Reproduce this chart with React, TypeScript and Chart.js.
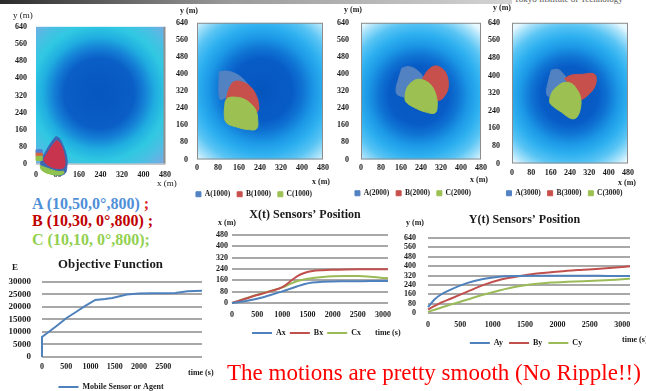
import React, { useEffect, useRef } from "react";
import { Chart, registerables } from "chart.js";

Chart.register(...registerables);

const SERIF = "'Liberation Serif', 'Times New Roman', serif";
const INK = "#1a1a1a";
const BLUE = "#4f81bd";
const RED = "#c0504d";
const GREEN = "#9bbb59";

/* ---------------- sensor field panels (t = 0, 1000, 2000, 3000 s) ---------------- */
const FIELD_X_TICKS = [0, 80, 160, 240, 320, 400, 480];
const FIELD_Y_TICKS = [0, 80, 160, 240, 320, 400, 480, 560, 640];
const FIELD_RADIUS = 360; // fade radius of the density field (m)

// t = 0 : sensors start near the origin
const P1_CENTER = [235, 330];
const P1_A = [[19, 23], [71, 126], [86, 122], [97, 98], [108, 65], [115, 28], [115, -9], [108, -42], [82, -51], [45, -37], [19, -9]];
const P1_B = [[30, 28], [74, 108], [86, 103], [97, 79], [104, 47], [108, 14], [104, -14], [82, -19], [52, -9], [30, 14]];
const P1_C = [[15, -5], [45, -19], [82, -33], [104, -33], [97, -47], [60, -47], [22, -28]];
const P1_A_MARK = [[0, 68], [22, 68], [22, 52], [0, 52]];
const P1_B_MARK = [[0, 52], [22, 52], [22, 38], [0, 38]];
const P1_C_MARK = [[0, 38], [22, 38], [22, 18], [0, 18]];

// t = 1000
const P2_CENTER = [245, 325];
const P2_A = [[85, 411], [119, 413], [158, 394], [189, 359], [199, 333], [164, 278], [113, 290], [90, 281], [84, 301], [84, 372]];
const P2_B = [[113, 293], [123, 333], [141, 364], [177, 361], [206, 337], [225, 301], [234, 262], [231, 226], [196, 221], [138, 249], [113, 270]];
const P2_C = [[107, 270], [116, 287], [145, 292], [177, 284], [204, 262], [224, 231], [231, 191], [227, 144], [196, 140], [151, 152], [113, 171], [104, 207]];

// t = 2000
const P3_CENTER = [230, 302];
const P3_A = [[163, 427], [189, 435], [223, 419], [249, 380], [243, 325], [203, 293], [149, 301], [140, 325], [149, 372]];
const P3_B = [[243, 372], [269, 419], [296, 438], [323, 427], [343, 395], [349, 340], [336, 301], [316, 278], [296, 281], [256, 325]];
const P3_C = [[196, 356], [223, 375], [256, 369], [283, 344], [300, 301], [305, 254], [296, 218], [256, 223], [209, 246], [180, 270], [176, 293], [183, 333]];

// t = 3000
const P4_CENTER = [238, 310];
const P4_A = [[163, 425], [191, 428], [211, 409], [225, 387], [225, 341], [191, 311], [156, 303], [143, 318], [150, 371]];
const P4_B = [[218, 387], [246, 402], [294, 406], [335, 409], [348, 394], [342, 349], [314, 311], [280, 288], [266, 303], [246, 341]];
const P4_C = [[177, 341], [211, 367], [246, 364], [269, 336], [283, 303], [284, 257], [269, 212], [246, 204], [204, 234], [170, 260], [156, 280], [163, 318]];

/* ---------------- objective function ---------------- */
const OBJ_T = [0, 0, 150, 300, 500, 700, 900, 1100, 1300, 1450, 1750, 2000, 2250, 2500, 2750, 3000, 3300];
const OBJ_E = [0, 8000, 10200, 12400, 15500, 18000, 20500, 22800, 23200, 23600, 25000, 25400, 25500, 25500, 25600, 26300, 26500];
const OBJ_X_TICKS = [0, 500, 1000, 1500, 2000, 2500];
const OBJ_Y_TICKS = [0, 5000, 10000, 15000, 20000, 25000, 30000];

/* ---------------- X(t) sensors' position ---------------- */
const XT_T = [0, 250, 500, 750, 1000, 1150, 1300, 1450, 1600, 1800, 2000, 2250, 2500, 2750, 3000, 3100];
const AX = [0, 12, 30, 55, 82, 100, 118, 134, 144, 150, 152, 153, 154, 155, 155, 155];
const BX = [0, 28, 56, 82, 112, 150, 190, 214, 226, 232, 235, 237, 238, 238, 238, 238];
const CX = [0, 30, 58, 84, 110, 134, 155, 168, 176, 184, 189, 190, 190, 186, 177, 175];
const XT_X_TICKS = [0, 500, 1000, 1500, 2000, 2500, 3000];
const XT_Y_TICKS = [0, 80, 160, 240, 320, 400, 480];

/* ---------------- Y(t) sensors' position ---------------- */
const YT_T = [0, 100, 200, 350, 600, 850, 1100, 1400, 1650, 1900, 2150, 2400, 2650, 2900, 3120];
const AY = [50, 115, 158, 200, 255, 290, 310, 316, 318, 318, 318, 317, 317, 316, 316];
const BY = [30, 60, 88, 122, 180, 238, 282, 313, 334, 347, 360, 369, 378, 388, 398];
const CY = [10, 28, 45, 72, 113, 155, 192, 228, 247, 260, 266, 270, 277, 284, 292];
const YT_X_TICKS = [0, 500, 1000, 1500, 2000, 2500, 3000];
const YT_Y_TICKS = [0, 80, 160, 240, 320, 400, 480, 560, 640];

/* ---------------- styling ---------------- */
const STOPS_T0: [number, string][] = [
  [0, "#0656bf"], [0.36, "#0a5ec6"], [0.47, "#1580d6"], [0.58, "#20aee0"],
  [0.7, "#30c8e2"], [0.82, "#48c0e4"], [1, "#80a8e0"],
];
const STOPS_T: [number, string][] = [
  [0, "#0655bf"], [0.33, "#085cc6"], [0.44, "#0f74d4"], [0.56, "#1c98e6"],
  [0.68, "#2eb0f0"], [0.8, "#58c4f4"], [0.92, "#a8e2fa"], [1, "#e8f8ff"],
];

const bold = (size: number) => ({ family: SERIF, size, weight: "bold" as const });
const setTicks = (arr: number[]) => (s: any) => {
  s.ticks = arr.map((value) => ({ value }));
};

// shifts the legend / title boxes sideways so they centre where the original does
const shiftBoxes = (legendDx: number, titleDx: number) => ({
  id: "shiftBoxes",
  afterLayout(chart: any) {
    if (chart.legend) {
      chart.legend.left += legendDx;
      chart.legend.right += legendDx;
    }
    if (chart.titleBlock) {
      chart.titleBlock.left += titleDx;
      chart.titleBlock.right += titleDx;
    }
  },
});

type Shape = { label: string; points: number[][]; color: string; tension?: number };

function fieldConfig(o: any): any {
  const n = o.shapes.length;
  const background = {
    id: "fieldBackground",
    beforeDraw(chart: any) {
      const { ctx, chartArea: a, scales } = chart;
      const xs = scales.x;
      const ys = scales.y;
      const top = ys.getPixelForValue(FIELD_Y_TICKS[FIELD_Y_TICKS.length - 1]);
      const bottom = ys.getPixelForValue(0);
      const cx = xs.getPixelForValue(o.center[0]);
      const cy = ys.getPixelForValue(o.center[1]);
      const r = Math.abs(xs.getPixelForValue(o.center[0] + FIELD_RADIUS) - cx);
      const g = ctx.createRadialGradient(cx, cy, 0, cx, cy, r);
      o.stops.forEach((st: [number, string]) => g.addColorStop(st[0], st[1]));
      ctx.save();
      ctx.fillStyle = g;
      ctx.fillRect(a.left, top, a.right - a.left, bottom - top);
      if (o.frame === "box") {
        ctx.strokeStyle = "#8c8c8c";
        ctx.lineWidth = 1;
        ctx.strokeRect(a.left + 0.5, top + 0.5, a.right - a.left - 1, bottom - top - 1);
      } else {
        ctx.fillStyle = "#8f8f8f";
        ctx.fillRect(a.right - 1.5, top, 2, bottom - top);
        ctx.fillStyle = "#c8c8c8";
        ctx.fillRect(a.left, bottom - 1, a.right - a.left, 1.5);
      }
      ctx.restore();
    },
  };
  return {
    type: "scatter",
    data: {
      datasets: o.shapes.map((s: Shape, i: number) => ({
        label: s.label,
        data: [...s.points, s.points[0]].map(([x, y]) => ({ x, y })),
        showLine: true,
        fill: "shape",
        backgroundColor: s.color,
        borderColor: s.color,
        borderWidth: 1,
        pointRadius: 0,
        pointHoverRadius: 0,
        tension: s.tension ?? 0.4,
        clip: false,
        order: n - i,
      })),
    },
    options: {
      responsive: false,
      animation: false,
      events: [],
      layout: { padding: o.padding },
      elements: { line: { capBezierPoints: false } },
      plugins: {
        legend: {
          display: o.legend,
          position: "bottom",
          labels: {
            boxWidth: 5,
            boxHeight: 5,
            padding: 7,
            color: INK,
            font: bold(7.5),
            sort: (a: any, b: any) => a.datasetIndex - b.datasetIndex,
          },
        },
        tooltip: { enabled: false },
        title: { display: false },
      },
      scales: {
        x: {
          type: "linear",
          min: 0,
          max: 480,
          position: o.xAtZero ? { y: 0 } : "bottom",
          afterBuildTicks: setTicks(FIELD_X_TICKS),
          afterFit: (s: any) => {
            s.height = o.xAxisHeight;
          },
          ticks: { padding: o.xTickPad, color: INK, font: bold(8), maxRotation: 0, autoSkip: false, callback: (v: any) => String(v) },
          grid: { display: false, drawTicks: false },
          border: { display: false },
        },
        y: {
          type: "linear",
          min: o.yMin,
          max: 640,
          afterBuildTicks: setTicks(FIELD_Y_TICKS),
          afterFit: (s: any) => {
            s.width = o.yAxisWidth;
          },
          ticks: { padding: o.yTickPad, color: INK, font: bold(8), autoSkip: false, callback: (v: any) => String(v) },
          grid: { display: false, drawTicks: false },
          border: { display: false },
        },
      },
    },
    plugins: [background, shiftBoxes(o.legendDx || 0, 0)],
  };
}

function lineConfig(o: any): any {
  return {
    type: "line",
    data: {
      datasets: o.series.map((s: any) => ({
        label: s.label,
        data: o.t.map((t: number, i: number) => ({ x: t, y: s.values[i] })),
        borderColor: s.color,
        backgroundColor: s.color,
        borderWidth: 2,
        pointRadius: 0,
        pointHoverRadius: 0,
        fill: false,
        clip: 2,
        tension: o.smooth ? 0.4 : 0,
        cubicInterpolationMode: o.smooth ? "monotone" : "default",
      })),
    },
    options: {
      responsive: false,
      animation: false,
      events: [],
      layout: { padding: { left: 0, right: o.padRight, top: 0, bottom: 0 } },
      plugins: {
        title: {
          display: true,
          text: o.title,
          color: INK,
          font: bold(o.titleSize),
          padding: { top: o.titleTop, bottom: o.titleBottom },
        },
        legend: {
          position: "bottom",
          labels: {
            usePointStyle: true,
            pointStyle: "line",
            pointStyleWidth: 20,
            padding: o.legendPad,
            color: INK,
            font: bold(8),
          },
        },
        tooltip: { enabled: false },
      },
      scales: {
        x: {
          type: "linear",
          min: 0,
          max: o.xMax,
          afterBuildTicks: setTicks(o.xTicks),
          afterFit: (s: any) => {
            s.height = o.xAxisHeight;
          },
          ticks: { padding: o.xTickPad, color: INK, font: bold(8), maxRotation: 0, autoSkip: false, callback: (v: any) => String(v) },
          grid: { display: false, drawTicks: false },
          border: { display: false },
        },
        y: {
          type: "linear",
          min: 0,
          max: o.yMax,
          afterBuildTicks: setTicks(o.yTicks),
          afterFit: (s: any) => {
            s.width = o.yAxisWidth;
          },
          ticks: { padding: o.yTickPad, color: INK, font: bold(o.yFont), autoSkip: false, callback: (v: any) => String(v) },
          grid: { color: "#a8a8a8", lineWidth: 2, drawTicks: false },
          border: { display: false },
        },
      },
    },
    plugins: [shiftBoxes(o.legendDx, o.titleDx)],
  };
}

function ChartCanvas({ left, top, width, height, make }: any) {
  const ref = useRef<HTMLCanvasElement>(null);
  useEffect(() => {
    const chart = new Chart(ref.current as HTMLCanvasElement, make());
    return () => chart.destroy();
  }, []);
  return (
    <canvas
      ref={ref}
      width={width}
      height={height}
      style={{ position: "absolute", left, top, width, height, display: "block" }}
    />
  );
}

function Label({ x, y, size, text, color = INK, weight = 700 }: any) {
  return (
    <div
      style={{
        position: "absolute",
        left: x,
        top: y - size * 0.6,
        fontSize: size,
        lineHeight: `${size * 1.2}px`,
        fontWeight: weight,
        color,
        fontFamily: SERIF,
        whiteSpace: "nowrap",
      }}
    >
      {text}
    </div>
  );
}

const shapes = (a: number[][], b: number[][], c: number[][], tag: string): Shape[] => [
  { label: `A(${tag})`, points: a, color: "#5282c2" },
  { label: `B(${tag})`, points: b, color: "#c8504c" },
  { label: `C(${tag})`, points: c, color: "#9cc152" },
];

export default function App() {
  return (
    <div
      style={{
        position: "absolute",
        left: 0,
        top: 0,
        width: 646,
        height: 391,
        overflow: "hidden",
        background: "#ffffff",
        fontFamily: SERIF,
      }}
    >
      <div
        style={{
          position: "absolute",
          left: 0,
          top: 0,
          width: 512,
          height: 4,
          background: "linear-gradient(to right, #2b2b2b, #9a9a9a 45%, #d4d4d4 100%)",
        }}
      />
      <div
        style={{
          position: "absolute",
          left: 514,
          top: -6,
          fontSize: 9,
          lineHeight: "10px",
          color: "#555",
          fontFamily: SERIF,
          whiteSpace: "nowrap",
        }}
      >
        Tokyo Institute of Technology
      </div>

      <ChartCanvas
        left={0}
        top={13}
        width={178}
        height={177}
        make={() =>
          fieldConfig({
            shapes: [
              { label: "A(0)", points: P1_A, color: "#3a68b2" },
              { label: "B(0)", points: P1_B, color: "#c8344e" },
              { label: "C(0)", points: P1_C, color: "#90c24e" },
              { label: "A0", points: P1_A_MARK, color: "#4f81d0", tension: 0 },
              { label: "B0", points: P1_B_MARK, color: "#d8603c", tension: 0 },
              { label: "C0", points: P1_C_MARK, color: "#90c24e", tension: 0 },
            ],
            center: P1_CENTER,
            stops: STOPS_T0,
            frame: "side",
            yMin: -55,
            xAtZero: true,
            yAxisWidth: 36,
            xAxisHeight: 0,
            padding: { left: 0, right: 13, top: 0, bottom: 0 },
            xTickPad: 6,
            yTickPad: 9,
            legend: false,
          })
        }
      />
      <ChartCanvas
        left={172}
        top={9}
        width={164}
        height={199}
        make={() =>
          fieldConfig({
            shapes: shapes(P2_A, P2_B, P2_C, "1000"),
            center: P2_CENTER,
            stops: STOPS_T,
            frame: "box",
            yMin: 0,
            yAxisWidth: 25,
            xAxisHeight: 24,
            padding: { left: 0, right: 13, top: 0, bottom: 0 },
            xTickPad: 4,
            yTickPad: 9,
            legend: true,
            legendDx: 6.5,
          })
        }
      />
      <ChartCanvas
        left={333}
        top={6}
        width={160}
        height={201}
        make={() =>
          fieldConfig({
            shapes: shapes(P3_A, P3_B, P3_C, "2000"),
            center: P3_CENTER,
            stops: STOPS_T,
            frame: "box",
            yMin: 0,
            yAxisWidth: 28,
            xAxisHeight: 23,
            padding: { left: 0, right: 12, top: 0, bottom: 0 },
            xTickPad: 4,
            yTickPad: 12,
            legend: true,
            legendDx: 6,
          })
        }
      />
      <ChartCanvas
        left={486}
        top={6}
        width={157}
        height={201}
        make={() =>
          fieldConfig({
            shapes: shapes(P4_A, P4_B, P4_C, "3000"),
            center: P4_CENTER,
            stops: STOPS_T,
            frame: "box",
            yMin: 0,
            yAxisWidth: 26,
            xAxisHeight: 19,
            padding: { left: 0, right: 15, top: 0, bottom: 0 },
            xTickPad: 5,
            yTickPad: 12,
            legend: true,
            legendDx: 7.5,
          })
        }
      />

      <Label x={13} y={15} size={9} text="y (m)" weight={400} />
      <Label x={157} y={183} size={9} text="x (m)" weight={400} />
      <Label x={180} y={11} size={8} text="y (m)" />
      <Label x={312} y={182} size={8} text="x (m)" />
      <Label x={344} y={10} size={8} text="y (m)" />
      <Label x={470} y={180} size={8} text="x (m)" />
      <Label x={493} y={8} size={8} text="y (m)" />
      <Label x={618} y={183} size={8} text="x (m)" />

      <div style={{ position: "absolute", left: 32, top: 194, fontSize: 16, lineHeight: "19px", fontWeight: 700, whiteSpace: "nowrap", fontFamily: SERIF }}>
        <span style={{ color: "#4f8fd8" }}>A (10,50,0°,800)</span>
        <span style={{ color: "#e02020" }}> ;</span>
      </div>
      <div style={{ position: "absolute", left: 32, top: 211, fontSize: 16, lineHeight: "19px", fontWeight: 700, whiteSpace: "nowrap", fontFamily: SERIF, color: "#c00000" }}>
        B (10,30, 0°,800) ;
      </div>
      <div style={{ position: "absolute", left: 32, top: 230, fontSize: 16, lineHeight: "19px", fontWeight: 700, whiteSpace: "nowrap", fontFamily: SERIF, color: "#92d050" }}>
        C (10,10, 0°,800);
      </div>

      <ChartCanvas
        left={0}
        top={255}
        width={222}
        height={146}
        make={() =>
          lineConfig({
            t: OBJ_T,
            series: [{ label: "Mobile Sensor or Agent", values: OBJ_E, color: BLUE }],
            smooth: false,
            title: "Objective Function",
            titleSize: 12.8,
            titleTop: 2.3,
            titleBottom: 9.3,
            padRight: 20,
            legendPad: 4,
            legendDx: 10,
            titleDx: 9.5,
            xMax: 3300,
            xTicks: OBJ_X_TICKS,
            yMax: 30000,
            yTicks: OBJ_Y_TICKS,
            xAxisHeight: 22,
            yAxisWidth: 42,
            xTickPad: 5,
            yTickPad: 11,
            yFont: 9,
          })
        }
      />
      <ChartCanvas
        left={212}
        top={205}
        width={190}
        height={142}
        make={() =>
          lineConfig({
            t: XT_T,
            series: [
              { label: "Ax", values: AX, color: BLUE },
              { label: "Bx", values: BX, color: RED },
              { label: "Cx", values: CX, color: GREEN },
            ],
            smooth: true,
            title: "X(t) Sensors’ Position",
            titleSize: 12,
            titleTop: 2.8,
            titleBottom: 12.8,
            padRight: 14,
            legendPad: 4,
            legendDx: 6.5,
            titleDx: 5,
            xMax: 3100,
            xTicks: XT_X_TICKS,
            yMax: 480,
            yTicks: XT_Y_TICKS,
            xAxisHeight: 22,
            yAxisWidth: 20,
            xTickPad: 7,
            yTickPad: 4,
            yFont: 8,
          })
        }
      />
      <ChartCanvas
        left={400}
        top={208}
        width={246}
        height={149}
        make={() =>
          lineConfig({
            t: YT_T,
            series: [
              { label: "Ay", values: AY, color: BLUE },
              { label: "By", values: BY, color: RED },
              { label: "Cy", values: CY, color: GREEN },
            ],
            smooth: true,
            title: "Y(t) Sensors’ Position",
            titleSize: 12,
            titleTop: 4.8,
            titleBottom: 10.8,
            padRight: 16,
            legendPad: 6,
            legendDx: 11,
            titleDx: 9.5,
            xMax: 3120,
            xTicks: YT_X_TICKS,
            yMax: 640,
            yTicks: YT_Y_TICKS,
            xAxisHeight: 20,
            yAxisWidth: 28,
            xTickPad: 7,
            yTickPad: 12,
            yFont: 8,
          })
        }
      />

      <Label x={12} y={267} size={9} text="E" />
      <Label x={188} y={373} size={8} text="time (s)" />
      <Label x={218} y={223} size={8} text="x (m)" />
      <Label x={375} y={333} size={8} text="time (s)" />
      <Label x={406} y={223} size={8} text="y (m)" />
      <Label x={622} y={340} size={8} text="time (s)" />

      <Label x={227} y={373} size={23} text="The motions are pretty smooth (No Ripple!!)" color="#ff0000" weight={400} />
    </div>
  );
}
